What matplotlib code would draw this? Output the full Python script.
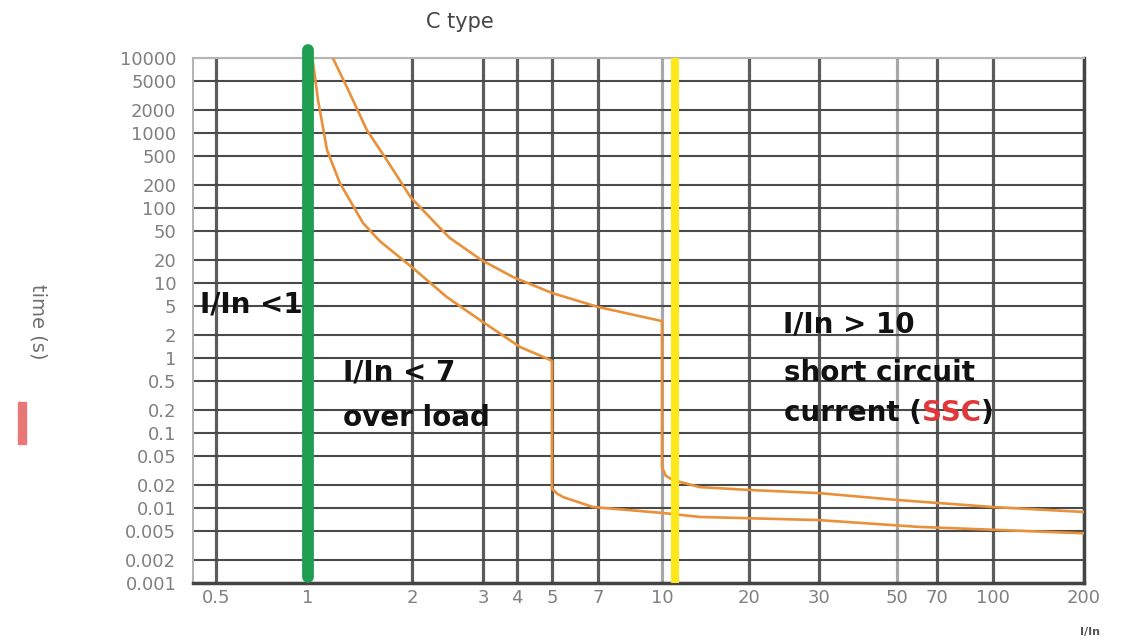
import numpy as np
import matplotlib
matplotlib.use("Agg")
import matplotlib.pyplot as plt
from matplotlib.patches import Rectangle
from matplotlib.ticker import NullLocator

plt.rcParams['font.family'] = ['DejaVu Sans']

# x axis: I/In values and the (uneven, hand drawn) spacing of the printed paper
x_ticks = [0.5, 1, 2, 3, 4, 5, 7, 10, 20, 30, 50, 70, 100, 200]
x_tick_labels = ["0.5", "1", "2", "3", "4", "5", "7", "10", "20", "30", "50", "70", "100", "200"]
paper_pos = [216, 308, 412, 483, 517, 552, 598, 662, 749, 819, 897, 937, 993, 1084]

# y axis: trip time in seconds
y_ticks = [10000, 5000, 2000, 1000, 500, 200, 100, 50, 20, 10, 5, 2, 1,
           0.5, 0.2, 0.1, 0.05, 0.02, 0.01, 0.005, 0.002, 0.001]
y_tick_labels = ["10000", "5000", "2000", "1000", "500", "200", "100", "50", "20", "10", "5", "2", "1",
                 "0.5", "0.2", "0.1", "0.05", "0.02", "0.01", "0.005", "0.002", "0.001"]

# C type trip curve, upper (cold) limit
upper_x = [1.18, 1.32, 1.48, 1.69, 1.98, 2.31, 2.48, 2.97, 3.87, 5.0, 7.0, 9.73, 10.0,
           10.0, 10.3, 10.9, 13.5, 20, 30, 50, 100, 200]
upper_y = [10000, 3415, 1096, 437, 140, 59, 40, 20.3, 12.0, 7.36, 4.79, 3.21, 3.1,
           0.035, 0.027, 0.0236, 0.019, 0.0174, 0.0158, 0.0128, 0.0103, 0.00885]

# C type trip curve, lower (hot) limit
lower_x = [1.03, 1.069, 1.135, 1.237, 1.443, 1.616, 2.02, 2.44, 2.95, 4.08, 4.95, 5.0,
           5.0, 5.2, 5.42, 6.75, 10.0, 13.5, 30, 60, 200]
lower_y = [10000, 2754, 593, 215, 63, 36, 15.5, 6.5, 3.2, 1.40, 0.94, 0.9,
           0.018, 0.0155, 0.014, 0.0103, 0.0086, 0.0076, 0.0069, 0.0056, 0.0046]

overload_limit = 1
short_circuit_limit = 11.1

# scale that follows the paper spacing (log-like, piecewise)
lt = np.log10(x_ticks)
s0 = (paper_pos[1] - paper_pos[0]) / (lt[1] - lt[0])
s1 = (paper_pos[-1] - paper_pos[-2]) / (lt[-1] - lt[-2])
lt_ext = np.concatenate([[lt[0] - 5], lt, [lt[-1] + 5]])
pos_ext = np.concatenate([[paper_pos[0] - 5 * s0], paper_pos, [paper_pos[-1] + 5 * s1]])


def fwd(x):
    x = np.clip(np.asarray(x, dtype=float), 1e-6, None)
    return np.interp(np.log10(x), lt_ext, pos_ext)


def inv(p):
    return 10 ** np.interp(np.asarray(p, dtype=float), pos_ext, lt_ext)


fig = plt.figure(figsize=(11.23, 6.42), dpi=100)
ax = fig.add_axes([193 / 1123, 1 - 583 / 642, 891 / 1123, 525 / 642])

ax.set_xscale('function', functions=(fwd, inv))
ax.set_yscale('log')
ax.set_xlim(float(inv(193)), 200)
ax.set_ylim(0.001, 10000)

ax.set_xticks(x_ticks)
ax.set_xticklabels(x_tick_labels)
ax.set_yticks(y_ticks)
ax.set_yticklabels(y_tick_labels)
ax.xaxis.set_minor_locator(NullLocator())
ax.yaxis.set_minor_locator(NullLocator())
ax.tick_params(axis='both', length=0, labelcolor='#808080', labelsize=13)
ax.tick_params(axis='y', pad=12)
ax.tick_params(axis='x', pad=4)

ax.grid(axis='y', color='#4a4a4a', linewidth=1.5)
ax.grid(axis='x', color='#5c5c5c', linewidth=2.3)
for gl, v in zip(ax.get_xgridlines(), x_ticks):
    if v in (10, 50):
        gl.set_color('#a8a8a8')
ax.set_axisbelow(True)

for side in ['left', 'top']:
    ax.spines[side].set_color('#b5b5b5')
    ax.spines[side].set_linewidth(1.5)
for side in ['right', 'bottom']:
    ax.spines[side].set_color('#444444')
    ax.spines[side].set_linewidth(2.5)

ax.plot(upper_x, upper_y, color='#e8913a', linewidth=1.9, zorder=3)
ax.plot(lower_x, lower_y, color='#e8913a', linewidth=1.9, zorder=3)

ax.plot([overload_limit, overload_limit], [12800, 0.0012], color='#1f9e4f',
        linewidth=8.5, solid_capstyle='round', clip_on=False, zorder=4)
ax.plot([short_circuit_limit, short_circuit_limit], [10000, 0.001], color='#ffe81a',
        linewidth=5.8, solid_capstyle='butt', clip_on=False, zorder=4)

fs = 20
txt = dict(transform=ax.transAxes, fontsize=fs, fontweight='bold', color='#111111',
           va='baseline', ha='left', zorder=6)
ax.text(0.008, 0.515, "I/In <1", **txt)
ax.text(0.168, 0.385, "I/In < 7", **txt)
ax.text(0.168, 0.300, "over load", **txt)
ax.text(0.662, 0.478, "I/In > 10", **txt)
ax.text(0.663, 0.384, "short circuit", **txt)
t1 = ax.text(0.663, 0.308, "current (", **txt)
t2 = ax.annotate("SSC", xy=(1, 0.308), xycoords=(t1, ax.transAxes), fontsize=fs,
                 fontweight='bold', color='#e0383a', va='baseline', ha='left', zorder=6)
ax.annotate(")", xy=(1, 0.308), xycoords=(t2, ax.transAxes), fontsize=fs,
            fontweight='bold', color='#111111', va='baseline', ha='left', zorder=6)

fig.text(460 / 1123, 1 - 22 / 642, "C type", fontsize=15, color='#444444', ha='center', va='center')
fig.text(38 / 1123, 1 - 322 / 642, "time (s)", fontsize=14, color='#707070', rotation=270,
         ha='center', va='center')
fig.text(1090 / 1123, 1 - 632 / 642, "I/In", fontsize=8, fontweight='bold', color='#555555',
         ha='center', va='center')
fig.add_artist(Rectangle((18 / 1123, 1 - 444 / 642), 8 / 1123, 42 / 642,
                         transform=fig.transFigure, color='#e87878'))

fig.savefig("out.png", dpi=100)
